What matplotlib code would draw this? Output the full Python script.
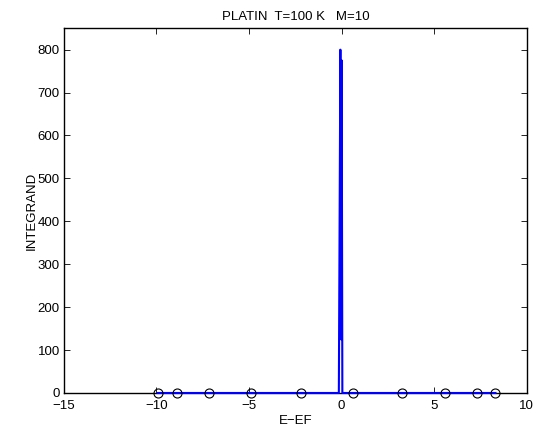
import matplotlib
matplotlib.use('Agg')
import matplotlib.pyplot as plt

# integrand curve (E-EF, value)
energy = [-9.93, -0.15, -0.067, -0.035, 0.003, 0.04, 8.31]
integrand = [0, 0, 800, 125, 775, 0, 0]

# integration points shown as circles
nodes_x = [-9.93, -8.90, -7.15, -4.87, -2.19, 0.59, 3.27, 5.58, 7.31, 8.31]
nodes_y = [0, 0, 0, 0, 0, 0, 0, 0, 0, 0]

xticks = [-15, -10, -5, 0, 5, 10]
yticks = [0, 100, 200, 300, 400, 500, 600, 700, 800]

plt.rcParams['font.family'] = ['Liberation Sans', 'DejaVu Sans']
plt.rcParams['font.size'] = 9.5

fig = plt.figure(figsize=(5.51, 4.34), dpi=100)
ax = fig.add_axes([0.116, 0.0945, 0.840, 0.8405])

ax.plot(energy, integrand, color='#0000ff', linewidth=1.5, clip_on=False, zorder=3)
ax.plot(nodes_x, nodes_y, 'o', markerfacecolor='none', markeredgecolor='black',
        markersize=6.5, markeredgewidth=0.8, clip_on=False, zorder=4)

ax.set_xlim(-15, 10)
ax.set_ylim(0, 850)
ax.set_xticks(xticks)
ax.set_yticks(yticks)
ax.tick_params(direction='in', top=True, right=True, length=4, width=0.6, pad=3)
ax.tick_params(axis='x', pad=5)
for s in ax.spines.values():
    s.set_linewidth(1.0)

ax.set_title('PLATIN  T=100 K   M=10', fontsize=9.5, pad=6)
ax.set_xlabel('E\u2212EF', fontsize=9.5, labelpad=2)
ax.set_ylabel('INTEGRAND', fontsize=9.5, labelpad=0)

plt.savefig('out.png', dpi=100)
